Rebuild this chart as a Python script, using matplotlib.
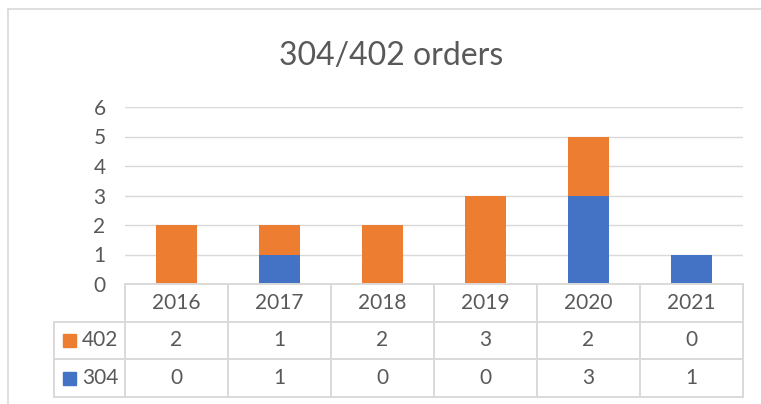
import numpy as np
import matplotlib
matplotlib.use("Agg")
import matplotlib.pyplot as plt
from matplotlib.lines import Line2D
from matplotlib.patches import Rectangle

years = ["2016", "2017", "2018", "2019", "2020", "2021"]
s304 = [0, 1, 0, 0, 3, 1]
s402 = [2, 1, 2, 3, 2, 0]
series_names = ["402", "304"]
table_rows = [s402, s304]

c304 = "#4472C4"
c402 = "#ED7D31"
txt = "#595959"
grid = "#D9D9D9"
font = "Lato"
fs = 15

W, H = 761, 404
fig = plt.figure(figsize=(W / 100, H / 100), dpi=100)

def fx(px):
    return px / W

def fy(py):
    return 1 - py / H

# chart border (cut off at right/bottom like the screenshot)
fig.add_artist(Line2D([fx(8), fx(8)], [fy(9), fy(H + 5)], color=grid, lw=1.2))
fig.add_artist(Line2D([fx(8), fx(W + 5)], [fy(9), fy(9)], color=grid, lw=1.2))

# plot area
x0, x1, ytop, ybot = 125, 743, 107, 284
ax = fig.add_axes([fx(x0), fy(ybot), fx(x1 - x0), (ybot - ytop) / H])
x = np.arange(len(years))
ax.bar(x, s304, width=0.4, color=c304, zorder=3)
ax.bar(x, s402, width=0.4, bottom=s304, color=c402, zorder=3)
ax.set_xlim(-0.5, len(years) - 0.5)
ax.set_ylim(0, 6)
ax.set_yticks(range(7))
ax.set_yticklabels([str(v) for v in range(7)], fontsize=fs, color=txt, family=font)
ax.tick_params(axis="y", length=0, pad=14)
ax.set_xticks([])
for v in range(1, 7):
    ax.axhline(v, color=grid, lw=1.0, zorder=1)
for s in ax.spines.values():
    s.set_visible(False)

fig.text(fx(391), fy(56), "304/402 orders", ha="center", va="center",
         fontsize=23, color=txt, family=font)

# data table below the plot
tl = 54
cw = (x1 - x0) / len(years)
rows_y = [284, 321.5, 359, 397]
lw = 1.4

def hline(xa, xb, y):
    fig.add_artist(Line2D([fx(xa), fx(xb)], [fy(y), fy(y)], color=grid, lw=lw))

def vline(x, ya, yb):
    fig.add_artist(Line2D([fx(x), fx(x)], [fy(ya), fy(yb)], color=grid, lw=lw))

hline(x0, x1, rows_y[0])
for y in rows_y[1:]:
    hline(tl, x1, y)
vline(tl, rows_y[1], rows_y[3])
for i in range(len(years) + 1):
    vline(x0 + i * cw, rows_y[0], rows_y[3])

for i, yr in enumerate(years):
    cx = x0 + (i + 0.5) * cw
    fig.text(fx(cx), fy((rows_y[0] + rows_y[1]) / 2), yr, ha="center", va="center",
             fontsize=fs, color=txt, family=font)
    for r, vals in enumerate(table_rows):
        fig.text(fx(cx), fy((rows_y[r + 1] + rows_y[r + 2]) / 2), str(vals[i]),
                 ha="center", va="center", fontsize=fs, color=txt, family=font)

for r, (name, col) in enumerate(zip(series_names, [c402, c304])):
    cy = (rows_y[r + 1] + rows_y[r + 2]) / 2
    fig.add_artist(Rectangle((fx(63), fy(cy + 7)), fx(13), 13 / H, color=col))
    fig.text(fx(82), fy(cy), name, ha="left", va="center",
             fontsize=fs, color=txt, family=font)

fig.savefig("out.png", dpi=100)
